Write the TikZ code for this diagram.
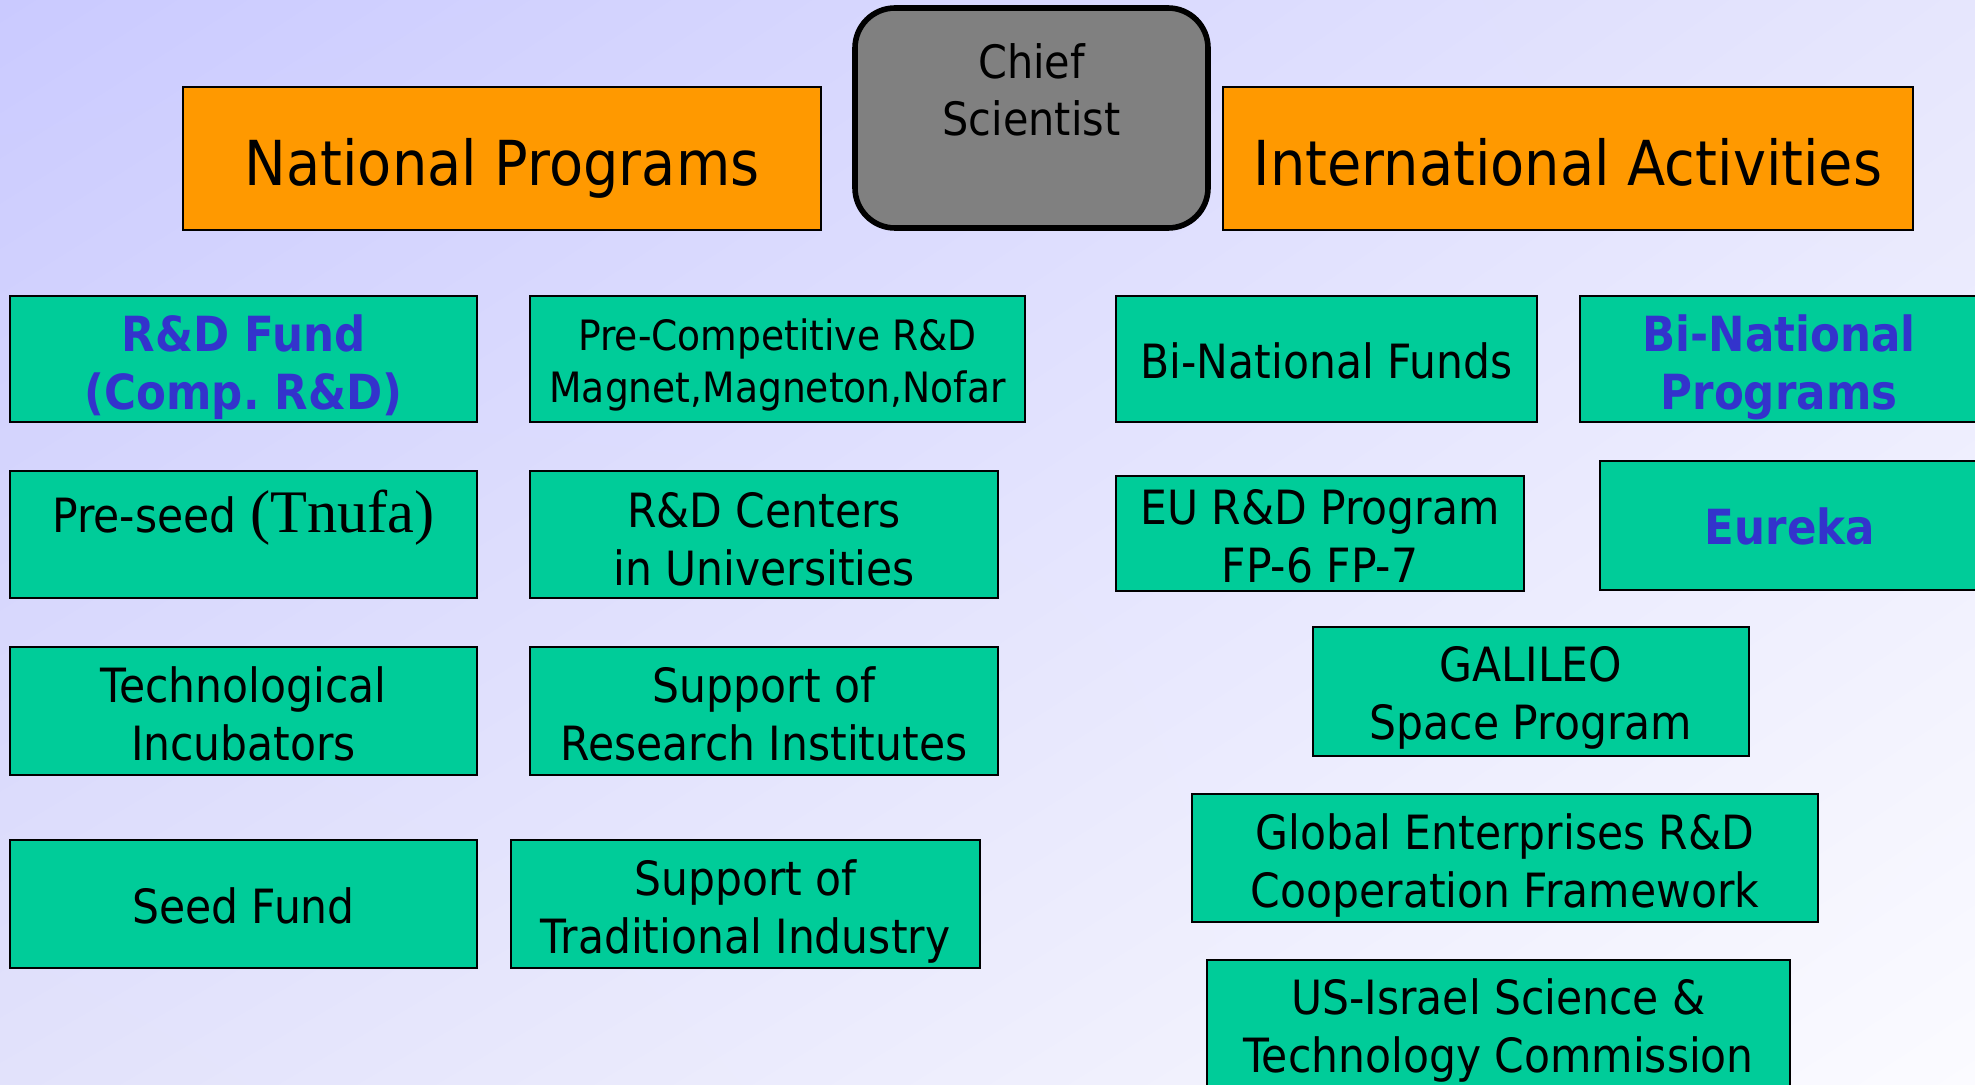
\documentclass[tikz,border=0pt]{standalone}
\usepackage{fontspec}
\setmainfont{DejaVu Sans}[FakeStretch=0.9]
\newfontfamily\tnufafont{Liberation Serif}
\usepackage{tikz}
\usetikzlibrary{shadings}
\definecolor{progorange}{HTML}{FF9900}
\definecolor{boxgreen}{HTML}{00CC99}
\definecolor{chiefgray}{HTML}{808080}
\definecolor{fundblue}{HTML}{3333CC}
\definecolor{bgTL}{HTML}{CACAFF}
\definecolor{bgTR}{HTML}{E6E6FD}
\definecolor{bgBL}{HTML}{E2E2FB}
\definecolor{bgBR}{HTML}{FBFBFF}
\tikzset{
  grbox/.style={draw=black, line width=1pt, fill=boxgreen, align=center, inner sep=2pt,
    font=\fontsize{23.6}{29}\selectfont},
  oneline/.style={text height=19.5pt, text depth=0pt},
  twoline/.style={text height=49.5pt, text depth=0pt},
  orbox/.style={draw=black, line width=1pt, fill=progorange, minimum height=71.5pt, inner sep=2pt,
    text height=27.5pt, text depth=0pt, font=\fontsize{31}{38}\selectfont},
  bluetext/.style={text=fundblue, font=\fontsize{24.2}{29}\selectfont\bfseries},
}

\begin{document}
\begin{tikzpicture}[x=0.5pt,y=-0.5pt]
\useasboundingbox (0,0) rectangle (1975,1085);
\clip (0,0) rectangle (1975,1085);
\shade[upper left=bgTL, upper right=bgTR, lower left=bgBL, lower right=bgBR] (0,0) rectangle (1975,1085);

% heads
\node[orbox, minimum width=319pt] (nat) at (502,158.5) {National Programs};
\node[draw=black, line width=2.8pt, fill=chiefgray, rounded corners=20pt, align=center,
  minimum width=176.5pt, minimum height=110pt, font=\fontsize{23}{28.5}\selectfont]
  (chief) at (1031.5,118) {Chief\\Scientist\\\mbox{}};
\node[orbox, minimum width=345pt] (intl) at (1568,158.5) {International Activities};

% national programs
\node[grbox, bluetext, twoline, text height=50.4pt, minimum width=233.5pt, minimum height=63pt] (rdfund) at (243.5,359) {R\&D Fund\\(Comp.\ R\&D)};
\node[grbox, twoline, text height=44pt, minimum width=247.5pt, minimum height=63pt,
  font=\fontsize{20.9}{26}\selectfont] (precomp) at (777.5,359) {Pre-Competitive R\&D\\Magnet,Magneton,Nofar};
\node[grbox, minimum width=233.5pt, minimum height=63.5pt,
  execute at begin node={\rule[-23pt]{0pt}{23pt}}] (preseed) at (243.5,534.5) {Pre-seed {\tnufafont\fontsize{30.2}{30}\selectfont(Tnufa)}};
\node[grbox, twoline, text height=51pt, minimum width=234pt, minimum height=63.5pt] (rdcent) at (764,534.5) {R\&D Centers\\in Universities};
\node[grbox, twoline, minimum width=233.5pt, minimum height=64pt] (techinc) at (243.5,711) {Technological\\Incubators};
\node[grbox, twoline, minimum width=234pt, minimum height=64pt] (resinst) at (764,711) {Support of\\Research Institutes};
\node[grbox, oneline, minimum width=233.5pt, minimum height=64pt] (seed) at (243.5,904) {Seed Fund};
\node[grbox, twoline, minimum width=234.5pt, minimum height=64pt] (tradind) at (745.5,904) {Support of\\Traditional Industry};

% international activities
\node[grbox, oneline, text height=20pt, minimum width=210.5pt, minimum height=63pt] (binfunds) at (1326.5,359) {Bi-National Funds};
\node[grbox, bluetext, twoline, text height=50.4pt, minimum width=199pt, minimum height=63pt] (binprog) at (1779,359) {Bi-National\\Programs};
\node[grbox, twoline, text height=48.5pt, minimum width=204pt, minimum height=57.5pt] (eu) at (1320,533.5) {EU R\&D Program\\FP-6 FP-7};
\node[grbox, bluetext, oneline, text height=18.6pt, minimum width=190pt, minimum height=64.5pt] (eureka) at (1790,525.5) {Eureka};
\node[grbox, twoline, text height=48pt, minimum width=218pt, minimum height=64.5pt] (galileo) at (1531,691.5) {GALILEO\\Space Program};
\node[grbox, twoline, minimum width=313pt, minimum height=64pt] (global) at (1505,858) {Global Enterprises R\&D\\Cooperation Framework};
\node[grbox, twoline, text height=48pt, minimum width=291.5pt, minimum height=64pt] (usisr) at (1498.5,1024) {US-Israel Science \&\\Technology Commission};
\end{tikzpicture}
\end{document}
